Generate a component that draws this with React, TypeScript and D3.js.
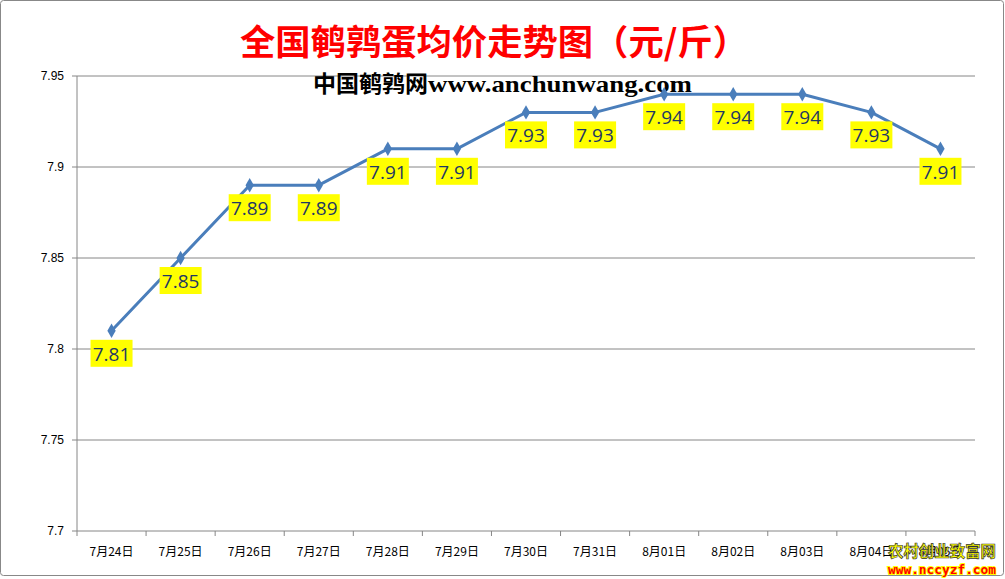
import React from "react";
import * as d3 from "d3";

const categories = ["7月24日", "7月25日", "7月26日", "7月27日", "7月28日", "7月29日", "7月30日", "7月31日", "8月01日", "8月02日", "8月03日", "8月04日", "8月05日"];
const prices = [7.81, 7.85, 7.89, 7.89, 7.91, 7.91, 7.93, 7.93, 7.94, 7.94, 7.94, 7.93, 7.91];
const yTicks = [7.7, 7.75, 7.8, 7.85, 7.9, 7.95];
const yTickLabels = ["7.7", "7.75", "7.8", "7.85", "7.9", "7.95"];

const W = 1005, H = 579;
const left = 77, right = 975, top = 76, bottom = 531;

export default function App() {
  const x = d3.scaleBand<string>().domain(categories).range([left, right]).padding(0);
  const y = d3.scaleLinear().domain([7.7, 7.95]).range([bottom, top]);
  const cx = (c: string) => (x(c) as number) + x.bandwidth() / 2;
  const line = d3.line<number>().x((_, i) => cx(categories[i])).y((d) => y(d));
  const diamond = d3.symbol().type(d3.symbolDiamond).size(60)();
  const boundaries = d3.range(categories.length + 1).map((i) => left + i * x.bandwidth());

  return (
    <svg width={W} height={H} style={{ position: "absolute", left: 0, top: 0, background: "#fff" }}>
      <rect x={0.5} y={0.5} width={1003} height={575} rx={3} fill="#fff" stroke="#888" strokeWidth={1} />
      <text x={494} y={55} textAnchor="middle" fill="#FF0000" fontSize={35} fontWeight="bold" fontFamily="'Noto Sans CJK SC', sans-serif" textLength={508} lengthAdjust="spacingAndGlyphs">全国鹌鹑蛋均价走势图（元/斤）</text>
      {yTicks.map((t, i) => (
        <g key={t}>
          <line x1={72} x2={right} y1={y(t)} y2={y(t)} stroke="#868686" strokeWidth={1} />
          <text x={64} y={y(t) + 4} textAnchor="end" fontSize={12} fill="#000" fontFamily="'Liberation Sans', sans-serif">{yTickLabels[i]}</text>
        </g>
      ))}
      <line x1={left} x2={left} y1={top} y2={bottom} stroke="#868686" strokeWidth={1} />
      {boundaries.map((b, i) => (
        <line key={i} x1={b} x2={b} y1={bottom} y2={bottom + 5} stroke="#868686" strokeWidth={1} />
      ))}
      {categories.map((c) => (
        <text key={c} x={cx(c)} y={556} textAnchor="middle" fontSize={12} fill="#000" fontFamily="'Noto Sans CJK SC', sans-serif">{c}</text>
      ))}
      <g>
        <text x={313} y={92} fontSize={23} fontWeight="bold" fill="#000" fontFamily="'Noto Sans CJK SC', sans-serif" textLength={115} lengthAdjust="spacingAndGlyphs">中国鹌鹑网</text>
        <text x={428} y={92} fontSize={23} fontWeight="bold" fill="#000" fontFamily="'Liberation Serif', serif" textLength={264} lengthAdjust="spacingAndGlyphs">www.anchunwang.com</text>
      </g>
      <path d={line(prices) as string} fill="none" stroke="#4A7EBB" strokeWidth={3} strokeLinejoin="round" />
      {prices.map((p, i) => (
        <path key={i} d={diamond as string} transform={`translate(${cx(categories[i])},${y(p)})`} fill="#4A7EBB" />
      ))}
      {prices.map((p, i) => {
        const px = cx(categories[i]);
        const py = y(p);
        return (
          <g key={"l" + i}>
            <rect x={px - 21} y={py + 9} width={42} height={27} fill="#FFFF00" />
            <text x={px} y={py + 30} textAnchor="middle" fontSize={19} fill="#1F3864" fontFamily="'Open Sans', 'Liberation Sans', sans-serif">{p.toFixed(2)}</text>
          </g>
        );
      })}
      <text x={942} y={557} textAnchor="middle" fontSize={16} fill="#FFFF00" stroke="#333" strokeWidth={0.7} fontWeight="bold" fontFamily="'Noto Sans CJK SC', sans-serif" textLength={108} lengthAdjust="spacingAndGlyphs">农村创业致富网</text>
      <text x={942} y={574} textAnchor="middle" fontSize={13} fill="#FF0000" stroke="#FFFF00" strokeWidth={2} paintOrder="stroke" fontWeight="bold" fontFamily="'DejaVu Sans Mono', monospace" textLength={108} lengthAdjust="spacingAndGlyphs">www.nccyzf.com</text>
    </svg>
  );
}
